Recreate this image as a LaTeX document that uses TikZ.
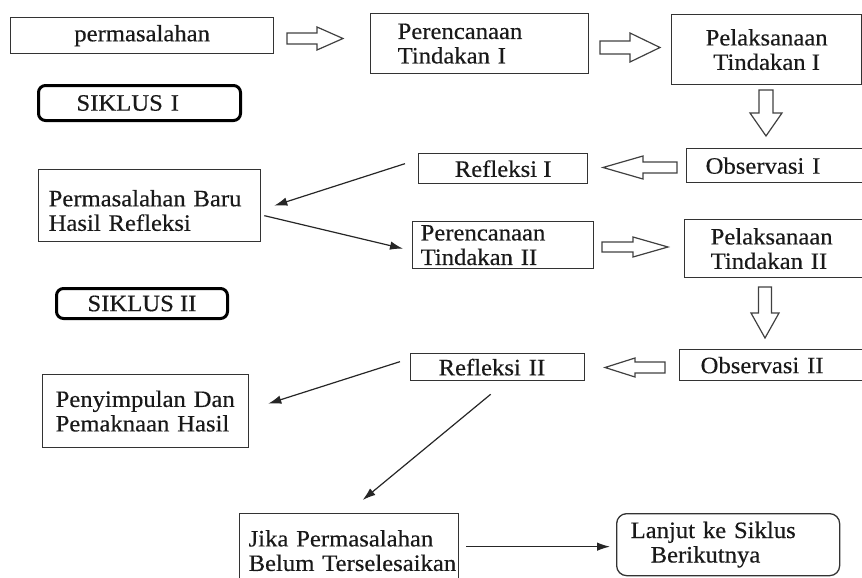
\documentclass[tikz,border=0pt]{standalone}
\usepackage{fontspec}
\setmainfont[FakeStretch=1.05,FakeBold=0.4]{Liberation Serif}
\usetikzlibrary{arrows.meta,calc}
\newcommand\hollowarrow[7]{%
  \draw[harrow, shift={(#1,#2)}, rotate=#3] (0,-#6) -- (#5,-#6) -- (#5,-#7) -- (#4,0) -- (#5,#7) -- (#5,#6) -- (0,#6) -- cycle;}
\begin{document}
\begin{tikzpicture}[x=1pt,y=-1pt,
  box/.style={draw=black!80, line width=1.3pt, rectangle, anchor=north west,
    inner ysep=0pt, font=\fontsize{23.5}{24.5}\selectfont, text=black!90},
  cbox/.style={box, align=center, inner xsep=0pt},
  lbox/.style={box, align=left},
  siklus/.style={box, draw=black, line width=3pt, rounded corners=7pt},
  harrow/.style={draw=black!75, line width=1.2pt, line join=miter},
  conn/.style={draw=black!85, line width=1.2pt, -{Latex[length=13pt,width=8.5pt]}}]
\useasboundingbox (0,0) rectangle (862,578);
\clip (0,0) rectangle (862,578);
% boxes
\node[cbox, minimum width=263pt, minimum height=36pt] (perm) at (10,17) {permasalahan};
\node[lbox, minimum width=218pt, minimum height=60pt, inner xsep=27pt, text width=164pt] (ren1) at (370,13) {\mbox{Perencanaan}\\\mbox{Tindakan I}};
\node[cbox, minimum width=190pt, minimum height=70pt] (pel1) at (671,14) {Pelaksanaan\\Tindakan~I};
\node[siklus, align=left, minimum width=202pt, minimum height=35pt, inner xsep=38pt, text width=126pt] (sik1) at (37,84) {\mbox{SIKLUS I}};
\node[cbox, minimum width=169pt, minimum height=30pt] (refl1) at (418,153) {Refleksi~I};
\node[lbox, minimum width=190pt, minimum height=34pt, inner xsep=19pt, text width=152pt] (obs1) at (686,148) {\mbox{Observasi I}};
\node[lbox, minimum width=222pt, minimum height=72pt, inner xsep=10pt, text width=202pt, text depth=15pt] (pb) at (38,169) {\mbox{Permasalahan Baru}\\\mbox{Hasil Refleksi}};
\node[lbox, minimum width=181pt, minimum height=47pt, inner xsep=8pt, text width=165pt] (ren2) at (412,221) {\mbox{Perencanaan}\\\mbox{Tindakan II}};
\node[lbox, minimum width=190pt, minimum height=58pt, inner xsep=26pt, text width=138pt] (pel2) at (684,219) {\mbox{Pelaksanaan}\\\mbox{Tindakan II}};
\node[siklus, align=center, minimum width=171pt, minimum height=30pt, inner xsep=0pt] (sik2) at (55,287) {SIKLUS~II};
\node[lbox, minimum width=174pt, minimum height=27pt, inner xsep=28pt, text width=118pt] (refl2) at (410,353) {\mbox{Refleksi II}};
\node[lbox, minimum width=190pt, minimum height=31pt, inner xsep=21pt, text width=148pt] (obs2) at (679,349) {\mbox{Observasi II}};
\node[lbox, minimum width=206pt, minimum height=73pt, inner xsep=13pt, text width=180pt] (peny) at (42,374) {\mbox{Penyimpulan Dan}\\\mbox{Pemaknaan Hasil}};
\node[lbox, minimum width=219pt, minimum height=74pt, inner xsep=9pt, text width=201pt] (jika) at (239,513) {\mbox{Jika Permasalahan}\\\mbox{Belum Terselesaikan}};
\node[lbox, rounded corners=10pt, minimum width=223pt, minimum height=62pt, inner xsep=14pt, text width=195pt] (lanjut) at (616,513) {\mbox{Lanjut ke Siklus}\\\mbox{\hspace*{20pt}Berikutnya}};
% hollow block arrows
\hollowarrow{287}{38.5}{0}{56}{30}{5.5}{11.5}
\hollowarrow{600}{47.5}{0}{60}{30}{6.5}{14.5}
\hollowarrow{766}{90}{-90}{46}{23}{7}{16}
\hollowarrow{677}{167.5}{180}{74}{34}{5.5}{11.5}
\hollowarrow{602}{247}{0}{66}{31}{5}{10}
\hollowarrow{765}{287}{-90}{51}{26}{6.5}{14}
\hollowarrow{665}{367.5}{180}{60}{30}{5.5}{9.5}
% connectors
\draw[conn] ($(refl1.west)+(-13,-5)$) -- ($(pb.east)+(13,0)$);
\draw[conn] ($(pb.east)+(3,10)$) -- ($(ren2.west)+(-9,3.5)$);
\draw[conn] ($(refl2.west)+(-10,-5.5)$) -- ($(peny.east)+(19,-7.5)$);
\draw[conn] ($(refl2.south)+(-7,13)$) -- ($(jika.north)+(13.5,-13)$);
\draw[conn] ($(jika.east)+(7,-4)$) -- ($(lanjut.west)+(-6,2)$);
\end{tikzpicture}
\end{document}
